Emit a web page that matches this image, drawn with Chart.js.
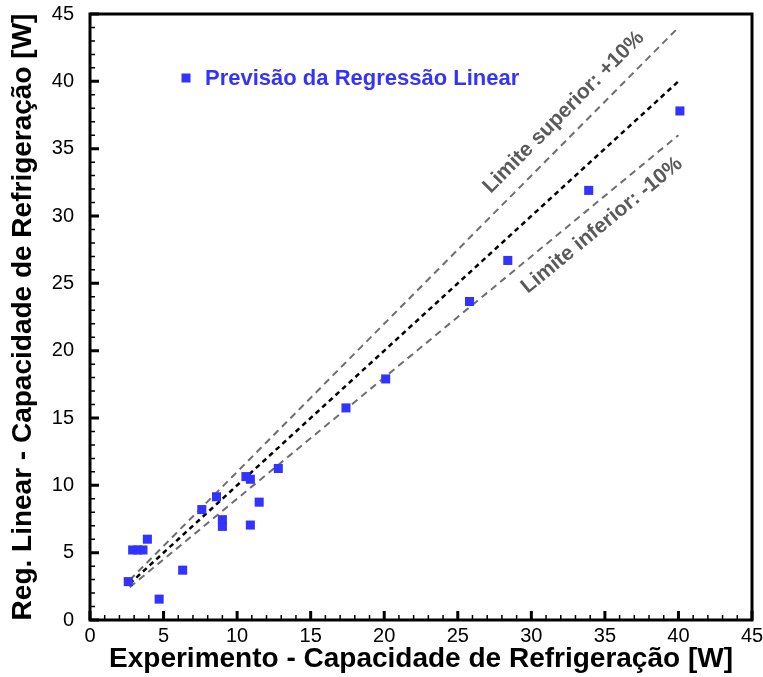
<!DOCTYPE html>
<html>
<head>
<meta charset="utf-8">
<script src="https://cdn.jsdelivr.net/npm/chart.js@4.4.1/dist/chart.umd.min.js"></script>
<style>
  html, body { margin: 0; padding: 0; background: #fff; }
  #theChart { display: block; }
</style>
</head>
<body>
<canvas id="theChart" width="763" height="677"></canvas>
<script>
// measured capacity vs. linear-regression prediction [W]
const expCapacity = [2.6, 2.9, 3.25, 3.6, 3.9, 4.7, 6.3, 7.6, 8.6, 9.0, 9.0, 10.6, 10.9, 10.9, 11.5, 12.8, 17.4, 20.1, 25.8, 28.4, 33.9, 40.1];
const regCapacity = [2.85, 5.2, 5.2, 5.2, 6.0, 1.55, 3.7, 8.2, 9.15, 7.45, 6.95, 10.65, 10.45, 7.05, 8.75, 11.25, 15.75, 17.9, 23.65, 26.7, 31.9, 37.8];

// reference lines: ideal y = x and the +/-10% band
const lineX = [2.7, 40];
const idealY = [2.7, 40];
const upperY = [2.97, 44];
const lowerY = [2.43, 36];

const AXIS_MIN = 0;
const AXIS_MAX = 45;
const MAJOR_STEP = 5;
const MINOR_STEP = 1;

const legendText = "Previsão da Regressão Linear";
const upperText = "Limite superior: +10%";
const lowerText = "Limite inferior: -10%";
// where the band labels sit (data coords)
const upperLabelAt = [32.2, 37.7];
const lowerLabelAt = [34.8, 29.3];

const FONT = "'Liberation Sans', Arial, sans-serif";
const BLUE = "rgb(51, 51, 255)";
const GREY = "rgb(110, 110, 110)";

function toPoints(xs, ys) {
  return xs.map((x, i) => ({ x: x, y: ys[i] }));
}

function lineSet(ys, color, dash, width) {
  return {
    data: toPoints(lineX, ys),
    showLine: true,
    borderColor: color,
    borderWidth: width,
    borderDash: dash,
    pointRadius: 0,
    fill: false,
  };
}

// frame, inward ticks, legend and rotated band labels
const decorations = {
  id: "decorations",
  afterDraw(chart) {
    const ctx = chart.ctx;
    const area = chart.chartArea;
    const xs = chart.scales.x;
    const ys = chart.scales.y;
    ctx.save();

    ctx.strokeStyle = "#000";
    for (let v = AXIS_MIN; v <= AXIS_MAX; v += MINOR_STEP) {
      const major = v % MAJOR_STEP === 0;
      const len = major ? 9 : 5;
      ctx.lineWidth = major ? 3 : 1.5;
      const px = xs.getPixelForValue(v);
      const py = ys.getPixelForValue(v);
      ctx.beginPath();
      ctx.moveTo(px, area.bottom);
      ctx.lineTo(px, area.bottom - len);
      ctx.moveTo(area.left, py);
      ctx.lineTo(area.left + len, py);
      ctx.stroke();
    }
    ctx.lineWidth = 3;
    ctx.strokeRect(area.left, area.top, area.right - area.left, area.bottom - area.top);

    // legend
    const lx = area.left + 96;
    const ly = area.top + 64;
    ctx.fillStyle = BLUE;
    ctx.fillRect(lx - 4.5, ly - 4.5, 9, 9);
    ctx.font = "bold 22px " + FONT;
    ctx.textAlign = "left";
    ctx.textBaseline = "middle";
    ctx.fillText(legendText, lx + 19, ly + 1);

    // band labels, parallel to their lines
    ctx.fillStyle = "rgb(90, 90, 90)";
    ctx.font = "bold 21px " + FONT;
    ctx.textAlign = "center";
    [[upperText, upperLabelAt, upperY], [lowerText, lowerLabelAt, lowerY]].forEach(([txt, at, ys2]) => {
      const x0 = xs.getPixelForValue(lineX[0]), y0 = ys.getPixelForValue(ys2[0]);
      const x1 = xs.getPixelForValue(lineX[1]), y1 = ys.getPixelForValue(ys2[1]);
      const ang = Math.atan2(y1 - y0, x1 - x0);
      ctx.save();
      ctx.translate(xs.getPixelForValue(at[0]), ys.getPixelForValue(at[1]));
      ctx.rotate(ang);
      ctx.fillText(txt, 0, 0);
      ctx.restore();
    });

    ctx.restore();
  },
};

const data = {
  datasets: [
    {
      data: toPoints(expCapacity, regCapacity),
      backgroundColor: BLUE,
      borderColor: BLUE,
      borderWidth: 0,
      pointStyle: "rect",
      pointRadius: 6.4,
      pointHoverRadius: 6.4,
    },
    lineSet(upperY, GREY, [7, 5], 2),
    lineSet(idealY, "#000", [5, 4], 2.5),
    lineSet(lowerY, GREY, [7, 5], 2),
  ],
};

const tickFont = { family: FONT, size: 20 };
const titleFont = { family: FONT, size: 28, weight: "bold" };

// fixed axis sizes; the tick labels may overhang the plot edges
function noOverhang(scale) {
  scale.paddingTop = 0;
  scale.paddingBottom = 0;
  scale.paddingLeft = 0;
  scale.paddingRight = 0;
}

const config = {
  type: "scatter",
  data: data,
  options: {
    responsive: false,
    animation: false,
    layout: {
      padding: { top: 14, right: 11, left: 0, bottom: 0 },
    },
    plugins: {
      legend: { display: false },
      tooltip: { enabled: false },
    },
    scales: {
      x: {
        type: "linear",
        min: AXIS_MIN,
        max: AXIS_MAX,
        grid: { display: false, drawTicks: false },
        border: { display: false },
        ticks: { stepSize: MAJOR_STEP, color: "#000", font: tickFont, padding: 4 },
        title: {
          display: true,
          text: "Experimento - Capacidade de Refrigeração [W]",
          color: "#000",
          font: titleFont,
          padding: { top: 0, bottom: 1 },
        },
        afterFit(scale) {
          scale.height = 57;
          noOverhang(scale);
        },
      },
      y: {
        type: "linear",
        min: AXIS_MIN,
        max: AXIS_MAX,
        grid: { display: false, drawTicks: false },
        border: { display: false },
        ticks: { stepSize: MAJOR_STEP, color: "#000", font: tickFont, padding: 16 },
        title: {
          display: true,
          text: "Reg. Linear - Capacidade de Refrigeração [W]",
          color: "#000",
          font: titleFont,
          padding: { top: 6, bottom: 0 },
        },
        afterFit(scale) {
          scale.width = 90;
          noOverhang(scale);
        },
      },
    },
  },
  plugins: [decorations],
};

const theChart = new Chart(document.getElementById("theChart"), config);
</script>
</body>
</html>
